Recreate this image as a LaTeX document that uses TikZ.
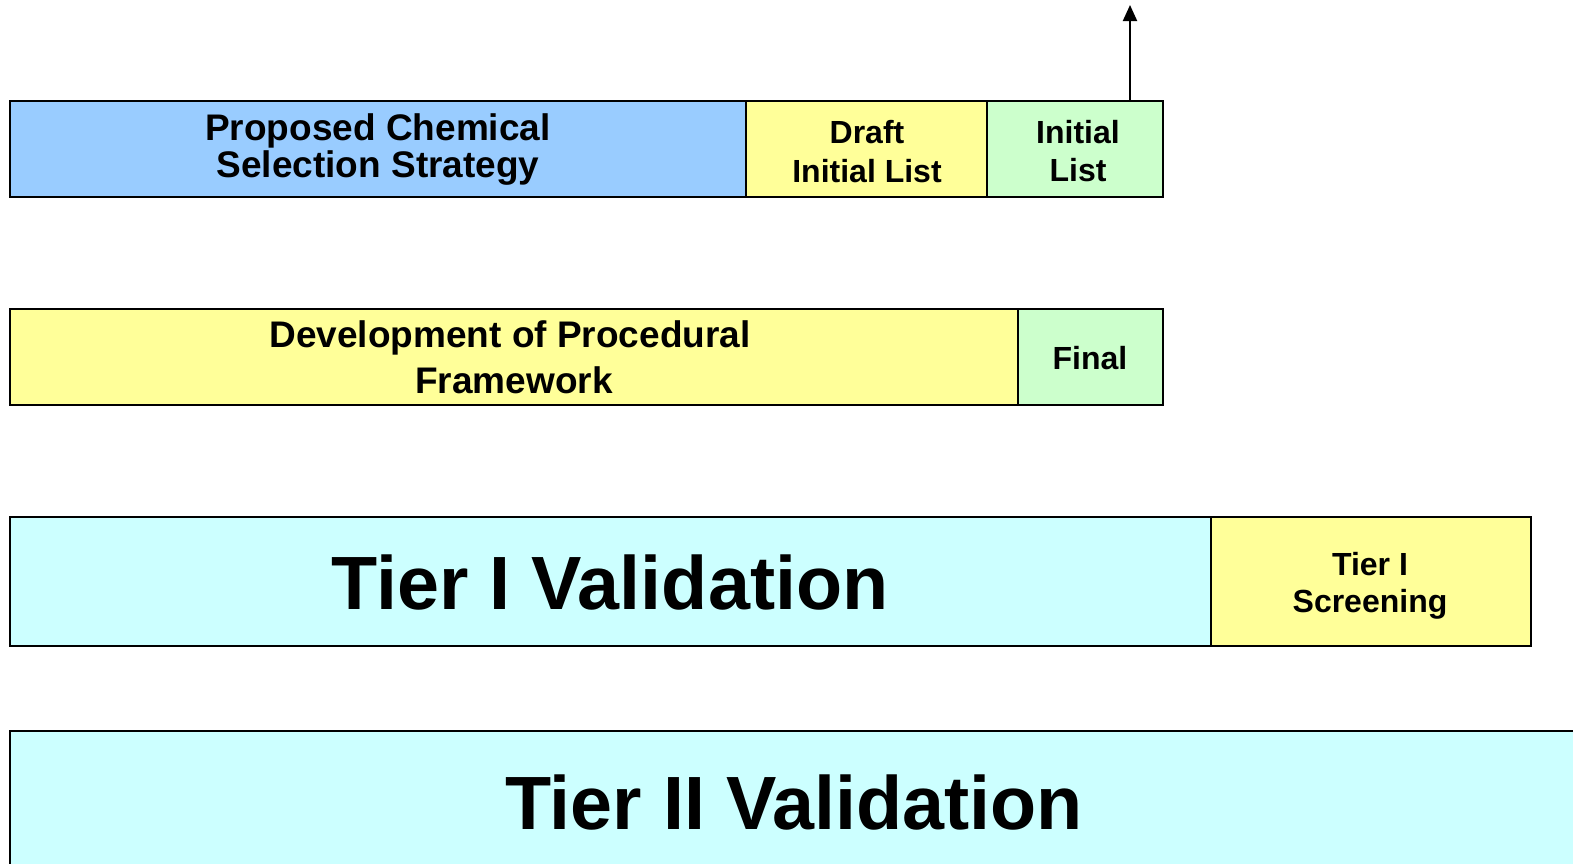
\documentclass[tikz,border=0pt]{standalone}
\usepackage{fontspec}
\setmainfont{Liberation Sans}
\usetikzlibrary{arrows.meta}
\definecolor{cblue}{HTML}{99CCFF}
\definecolor{cyel}{HTML}{FFFF99}
\definecolor{cgreen}{HTML}{CCFFCC}
\definecolor{ccyan}{HTML}{CCFFFF}
\begin{document}
\begin{tikzpicture}[x=1pt,y=-1pt,
  bar/.style={draw=black,line width=2pt},
  txts/.style={anchor=base,inner sep=0pt,font=\bfseries\fontsize{32}{38}\selectfont},
  txtm/.style={anchor=base,inner sep=0pt,font=\bfseries\fontsize{37}{38}\selectfont},
  txtl/.style={anchor=base,inner sep=0pt,font=\bfseries\fontsize{75.5}{80}\selectfont},
  arr/.style={line width=2pt,-{Triangle[length=16pt,width=14pt]}}]
\useasboundingbox (0,0) rectangle (1573,863);
\clip (0,0) rectangle (1573,863);
% row 1
\draw[bar,fill=cblue] (10,101) rectangle (746,197);
\draw[bar,fill=cyel] (746,101) rectangle (987,197);
\draw[bar,fill=cgreen] (987,101) rectangle (1163,197);
\coordinate (arrs) at (1130,101);
\coordinate (arre) at (1130,5);
\draw[arr] (arrs) -- (arre);
\node[txtm] (t1a) at (378,140) {Proposed Chemical};
\node[txtm] (t1b) at (378,177) {Selection Strategy};
\node[txts] (t2a) at (867,143) {Draft};
\node[txts] (t2b) at (867,182) {Initial List};
\node[txts] (t3a) at (1078,143) {Initial};
\node[txts] (t3b) at (1078,181) {List};
% row 2
\draw[bar,fill=cyel] (10,309) rectangle (1018,405);
\draw[bar,fill=cgreen] (1018,309) rectangle (1163,405);
\node[txtm] (t4a) at (510,347) {Development of Procedural};
\node[txtm] (t4b) at (514,393) {Framework};
\node[txts] (t5) at (1090,369) {Final};
% row 3
\draw[bar,fill=ccyan] (10,517) rectangle (1211,646);
\draw[bar,fill=cyel] (1211,517) rectangle (1531,646);
\node[txtl] (t6) at (610,609) {Tier I Validation};
\node[txts] (t7a) at (1370,575) {Tier I};
\node[txts] (t7b) at (1370,612) {Screening};
% row 4
\draw[bar,fill=ccyan] (10,731) rectangle (1600,900);
\node[txtl] (t8) at (794,829) {Tier II Validation};
\end{tikzpicture}
\end{document}
